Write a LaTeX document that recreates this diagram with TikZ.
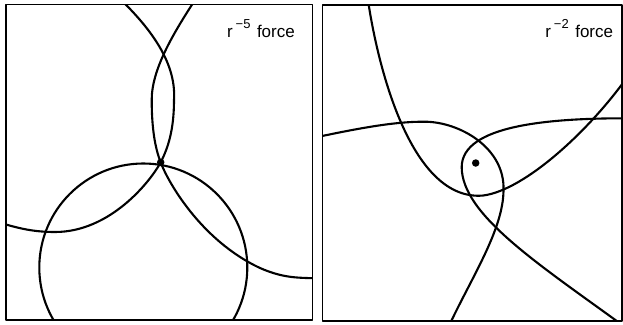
\documentclass[tikz,border=0pt]{standalone}
\usepackage{fontspec}
\setmainfont{Liberation Sans}
\usepackage{tikz}
\newcommand{\forcelaw}[1]{%
  r\kern3pt\raisebox{9pt}{\fontsize{13}{13}\selectfont −#1}\hspace{6.5pt}force}

\begin{document}
\begin{tikzpicture}[x=1pt, y=-1pt, line cap=round, line join=round,
  orbit/.style={line width=2.1pt},
  panelframe/.style={line width=1.9pt, line cap=butt},
  forcecenter/.style={circle, fill, inner sep=0pt, minimum size=7.5pt},
  forcelabel/.style={font=\fontsize{17}{20}\selectfont, inner sep=0pt,
    anchor=base east}]
  \useasboundingbox (0,0) rectangle (623,324);

  % Left panel: r^-5 force, three orbits through the centre.
  \begin{scope}
    \clip (6,4.5) rectangle (312.5,320);
    \draw[orbit] (118,-3) .. controls (158,35) and (176,68) .. (174,100)
      .. controls (174,130) and (168,148) .. (160.7,162.3)
      .. controls (150,182) and (110,232) .. (55,232)
      .. controls (30,232) and (15,227) .. (-3,222);
    \draw[orbit] (197,-3) .. controls (172,35) and (151.7,70) .. (151.7,100)
      .. controls (151.7,128) and (155,148) .. (160.7,162.3)
      .. controls (167,180) and (200,240) .. (260,268)
      .. controls (285,279) and (300,277.5) .. (320,278.5);
    \draw[orbit] (143.3,267.5) circle[radius=104];
  \end{scope}
  \draw[panelframe] (6,4.5) rectangle (312.5,320);
  \node[forcecenter] (centerfive) at (160.7,162.3) {};
  \node[forcelabel] (labelfive) at (295,37.7) {\forcelaw{5}};

  % Right panel: r^-2 force, three open orbits round the centre.
  \begin{scope}
    \clip (322.5,4.7) rectangle (622,320.7);
    \draw[orbit] (367.5,-3) .. controls (378,70) and (412,202) .. (483.3,195.5)
      .. controls (525,190) and (590,130) .. (628,76);
    \draw[orbit] (315,137.5) .. controls (360,128) and (395,121.5) .. (425,121.7)
      .. controls (460,122) and (505,148) .. (503.5,190)
      .. controls (503.5,230) and (470,280) .. (448,328);
    \draw[orbit] (630,118.3) .. controls (550,118) and (462,125) .. (461.7,167)
      .. controls (461.7,215) and (540,265) .. (625,327);
  \end{scope}
  \draw[panelframe] (322.5,4.7) rectangle (622,320.7);
  \node[forcecenter] (centertwo) at (475.7,163) {};
  \node[forcelabel] (labeltwo) at (613.3,37) {\forcelaw{2}};
\end{tikzpicture}
\end{document}
